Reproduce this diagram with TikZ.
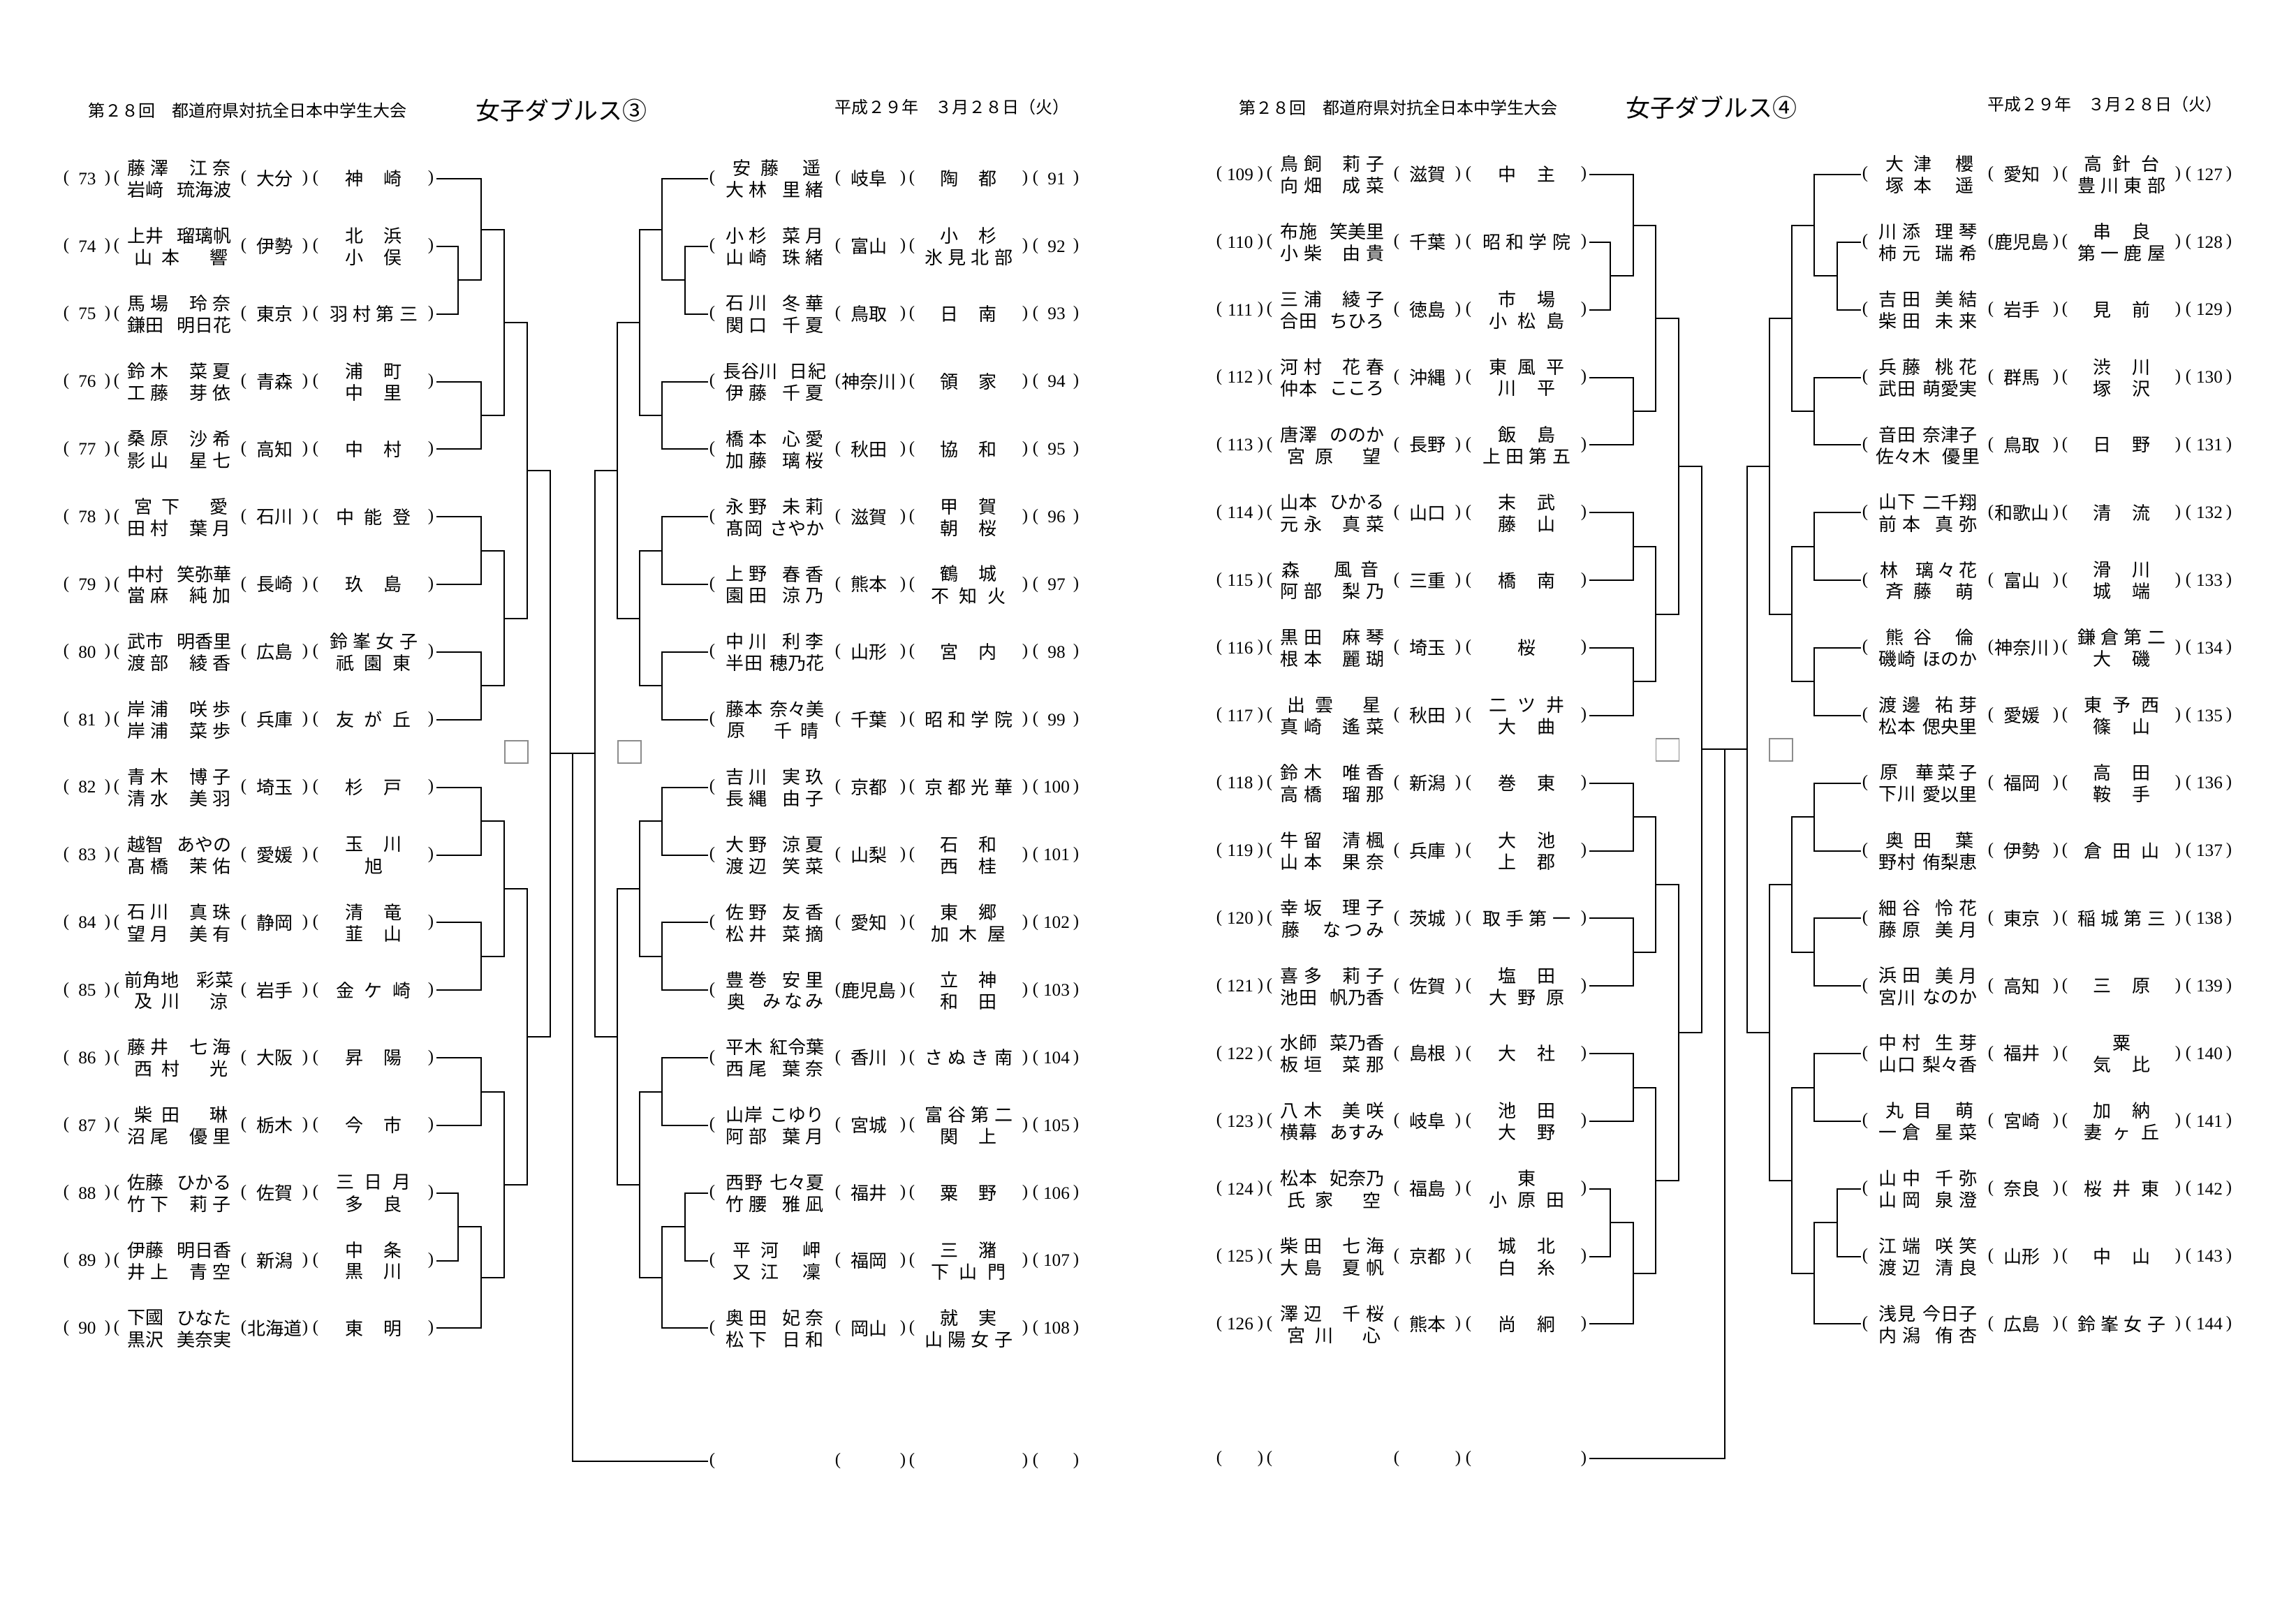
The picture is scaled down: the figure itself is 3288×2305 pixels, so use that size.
\documentclass[tikz,border=0pt]{standalone}
\usepackage{fontspec}
\newfontfamily\jp{Noto Sans CJK JP}
\newfontfamily\lser{Liberation Serif}
\usetikzlibrary{calc}
\ExplSyntaxOn
\NewExpandableDocumentCommand\clen{m}{\tl_count:n{#1}}
\NewDocumentCommand\spr{mm}{\tl_set:Nx\l_tmpa_tl{\tl_tail:n{#2}}\makebox[\dim_eval:n{0.25pt*#1}][s]{\tl_head:n{#2}\tl_map_inline:Nn\l_tmpa_tl{\hfil##1}}}
\ExplSyntaxOff
% person line: #1 S0, #2 y, #3 surname, #4 given, #5 name
\newcommand\Person[5]{%
  \ifnum\clen{#4}=1\relax
    \node[nm,anchor=west] (#5s) at (#1+10,#2) {\spr{66}{#3}};
    \node[nm] (#5g) at (\Gone-18,#2) {#4};
  \else
    \ifnum\clen{#3}=1\relax
      \node[nm] (#5s) at (#1+15,#2) {#3};
      \ifnum\clen{#4}=3\relax
        \node[nm,anchor=east] (#5g) at (\Gone,#2) {\spr{88}{#4}};
      \else
        \node[nm,anchor=east] (#5g) at (\Gone-8,#2) {\spr{64}{#4}};
      \fi
    \else
      \ifnum\clen{#3}=3\relax
        \node[nm,anchor=west] (#5s) at (#1-4,#2) {\spr{78}{#3}};
        \node[nm,anchor=east] (#5g) at (\Gone+4,#2) {\spr{54}{#4}};
      \else
        \ifnum\clen{#4}=3\relax
          \node[nm,anchor=west] (#5s) at (#1,#2) {\spr{53}{#3}};
          \node[nm,anchor=east] (#5g) at (\Gone,#2) {\spr{78}{#4}};
        \else
          \node[nm,anchor=west] (#5s) at (#1,#2) {\spr{60}{#3}};
          \node[nm,anchor=east] (#5g) at (\Gone,#2) {\spr{60}{#4}};
        \fi
      \fi
    \fi
  \fi}
\newcommand\SchOne[4]{\node[nm] (#4) at (#1,#2) {\ifcase\clen{#3}\or #3\or \spr{82}{#3}\or \spr{108}{#3}\else \spr{126}{#3}\fi};}
\newcommand\Sch[5]{%
  \if\relax\detokenize{#4}\relax
    \SchOne{#1}{#2}{#3}{#5a}%
  \else
    \SchOne{#1}{#2-15}{#3}{#5a}\SchOne{#1}{#2+16}{#4}{#5b}%
  \fi}
% entry with number on the left
\newcommand\EL[9]{%
  \pgfmathsetmacro\yy{\by+96.85*#1}%
  \def\Gone{\bx+236}%
  \node[pp] (p#2a) at (\bx,\yy) {(};
  \node[nb] (n#2) at (\bx+30,\yy) {#2};
  \node[pp] (p#2b) at (\bx+59,\yy) {)};
  \node[pp] (p#2c) at (\bx+72,\yy) {(};
  \Person{\bx+87}{\yy-15}{#3}{#4}{m#2a}%
  \Person{\bx+87}{\yy+16}{#5}{#6}{m#2b}%
  \node[pp] (p#2d) at (\bx+254,\yy) {(};
  \node[nm] (f#2) at (\bx+298,\yy) {#7};
  \node[pp] (p#2e) at (\bx+342,\yy) {)};
  \node[pp] (p#2f) at (\bx+357,\yy) {(};
  \Sch{\bx+440}{\yy}{#8}{#9}{s#2}%
  \node[pp] (p#2g) at (\bx+522,\yy) {)};
  \coordinate (e#2) at (\bx+530,\yy);}
% entry with number on the right
\newcommand\ER[9]{%
  \pgfmathsetmacro\yy{\by+96.85*#1}%
  \def\Gone{\bx+160}%
  \coordinate (e#2) at (\bx-6,\yy);
  \node[pp] (p#2a) at (\bx,\yy) {(};
  \Person{\bx+19}{\yy-15}{#3}{#4}{m#2a}%
  \Person{\bx+19}{\yy+16}{#5}{#6}{m#2b}%
  \node[pp] (p#2b) at (\bx+180,\yy) {(};
  \node[nm] (f#2) at (\bx+224,\yy) {#7};
  \node[pp] (p#2c) at (\bx+273,\yy) {)};
  \node[pp] (p#2d) at (\bx+286,\yy) {(};
  \Sch{\bx+367}{\yy}{#8}{#9}{s#2}%
  \node[pp] (p#2e) at (\bx+448,\yy) {)};
  \node[pp] (p#2f) at (\bx+463,\yy) {(};
  \node[nb] (n#2) at (\bx+493,\yy) {#2};
  \node[pp] (p#2g) at (\bx+521,\yy) {)};}
\newcommand\jn[4]{\draw[br] (#1) -- (#1 -| #3) -- (#2 -| #3) -- (#2);
  \coordinate (#4) at ($(#1 -| #3)!0.5!(#2 -| #3)$);}
\begin{document}
\begin{tikzpicture}[x=0.25pt,y=-0.25pt,
  nm/.style={inner sep=0pt,outer sep=0pt,font=\jp\fontsize{6.5pt}{6.5pt}\selectfont},
  pp/.style={inner sep=0pt,outer sep=0pt,font=\lser\fontsize{6.2pt}{6.2pt}\selectfont},
  nb/.style={inner sep=0pt,outer sep=0pt,font=\lser\fontsize{6.3pt}{6.3pt}\selectfont},
  hd/.style={inner sep=0pt,anchor=west,font=\jp\fontsize{6pt}{6pt}\selectfont},
  ttl/.style={inner sep=0pt,anchor=west,font=\jp\fontsize{8.75pt}{9pt}\selectfont},
  br/.style={line width=0.5pt},
  sq/.style={draw=black!45,line width=0.3pt,minimum width=8.25pt,minimum height=8pt,inner sep=0pt}]
\fill[white] (0,0) rectangle (3288,2305);
\useasboundingbox (0,0) rectangle (3288,2305);
% headers
\node[hd] (h1) at (126,158) {第２８回　都道府県対抗全日本中学生大会};
\node[ttl] (t1) at (681,158) {女子ダブルス③};
\node[hd] (d1) at (1195,153) {平成２９年　３月２８日（火）};
\node[hd] (h2) at (1774,154) {第２８回　都道府県対抗全日本中学生大会};
\node[ttl] (t2) at (2328,154) {女子ダブルス④};
\node[hd] (d2) at (2846,149) {平成２９年　３月２８日（火）};
% ===== left page, left column
\def\bx{95}\def\by{256}
\EL{0}{73}{藤澤}{江奈}{岩﨑}{琉海波}{大分}{神崎}{}
\EL{1}{74}{上井}{瑠璃帆}{山本}{響}{伊勢}{北浜}{小俣}
\EL{2}{75}{馬場}{玲奈}{鎌田}{明日花}{東京}{羽村第三}{}
\EL{3}{76}{鈴木}{菜夏}{工藤}{芽依}{青森}{浦町}{中里}
\EL{4}{77}{桑原}{沙希}{影山}{星七}{高知}{中村}{}
\EL{5}{78}{宮下}{愛}{田村}{葉月}{石川}{中能登}{}
\EL{6}{79}{中村}{笑弥華}{當麻}{純加}{長崎}{玖島}{}
\EL{7}{80}{武市}{明香里}{渡部}{綾香}{広島}{鈴峯女子}{祇園東}
\EL{8}{81}{岸浦}{咲歩}{岸浦}{菜歩}{兵庫}{友が丘}{}
\EL{9}{82}{青木}{博子}{清水}{美羽}{埼玉}{杉戸}{}
\EL{10}{83}{越智}{あやの}{髙橋}{茉佑}{愛媛}{玉川}{旭}
\EL{11}{84}{石川}{真珠}{望月}{美有}{静岡}{清竜}{韮山}
\EL{12}{85}{前角地}{彩菜}{及川}{涼}{岩手}{金ケ崎}{}
\EL{13}{86}{藤井}{七海}{西村}{光}{大阪}{昇陽}{}
\EL{14}{87}{柴田}{琳}{沼尾}{優里}{栃木}{今市}{}
\EL{15}{88}{佐藤}{ひかる}{竹下}{莉子}{佐賀}{三日月}{多良}
\EL{16}{89}{伊藤}{明日香}{井上}{青空}{新潟}{中条}{黒川}
\EL{17}{90}{下國}{ひなた}{黒沢}{美奈実}{北海道}{東明}{}
% ===== left page, right column
\def\bx{1020}
\ER{0}{91}{安藤}{遥}{大林}{里緒}{岐阜}{陶都}{}
\ER{1}{92}{小杉}{菜月}{山崎}{珠緒}{富山}{小杉}{氷見北部}
\ER{2}{93}{石川}{冬華}{関口}{千夏}{鳥取}{日南}{}
\ER{3}{94}{長谷川}{日紀}{伊藤}{千夏}{神奈川}{領家}{}
\ER{4}{95}{橋本}{心愛}{加藤}{璃桜}{秋田}{協和}{}
\ER{5}{96}{永野}{未莉}{髙岡}{さやか}{滋賀}{甲賀}{朝桜}
\ER{6}{97}{上野}{春香}{園田}{涼乃}{熊本}{鶴城}{不知火}
\ER{7}{98}{中川}{利李}{半田}{穂乃花}{山形}{宮内}{}
\ER{8}{99}{藤本}{奈々美}{原}{千晴}{千葉}{昭和学院}{}
\ER{9}{100}{吉川}{実玖}{長縄}{由子}{京都}{京都光華}{}
\ER{10}{101}{大野}{涼夏}{渡辺}{笑菜}{山梨}{石和}{西桂}
\ER{11}{102}{佐野}{友香}{松井}{菜摘}{愛知}{東郷}{加木屋}
\ER{12}{103}{豊巻}{安里}{奥}{みなみ}{鹿児島}{立神}{和田}
\ER{13}{104}{平木}{紅令葉}{西尾}{葉奈}{香川}{さぬき南}{}
\ER{14}{105}{山岸}{こゆり}{阿部}{葉月}{宮城}{富谷第二}{関上}
\ER{15}{106}{西野}{七々夏}{竹腰}{雅凪}{福井}{粟野}{}
\ER{16}{107}{平河}{岬}{又江}{凜}{福岡}{三潴}{下山門}
\ER{17}{108}{奥田}{妃奈}{松下}{日和}{岡山}{就実}{山陽女子}
% ===== right page, left column
\def\bx{1746}\def\by{250}
\EL{0}{109}{鳥飼}{莉子}{向畑}{成菜}{滋賀}{中主}{}
\EL{1}{110}{布施}{笑美里}{小柴}{由貴}{千葉}{昭和学院}{}
\EL{2}{111}{三浦}{綾子}{合田}{ちひろ}{徳島}{市場}{小松島}
\EL{3}{112}{河村}{花春}{仲本}{こころ}{沖縄}{東風平}{川平}
\EL{4}{113}{唐澤}{ののか}{宮原}{望}{長野}{飯島}{上田第五}
\EL{5}{114}{山本}{ひかる}{元永}{真菜}{山口}{末武}{藤山}
\EL{6}{115}{森}{風音}{阿部}{梨乃}{三重}{橋南}{}
\EL{7}{116}{黒田}{麻琴}{根本}{麗瑚}{埼玉}{桜}{}
\EL{8}{117}{出雲}{星}{真崎}{遙菜}{秋田}{二ツ井}{大曲}
\EL{9}{118}{鈴木}{唯香}{高橋}{瑠那}{新潟}{巻東}{}
\EL{10}{119}{牛留}{清楓}{山本}{果奈}{兵庫}{大池}{上郡}
\EL{11}{120}{幸坂}{理子}{藤}{なつみ}{茨城}{取手第一}{}
\EL{12}{121}{喜多}{莉子}{池田}{帆乃香}{佐賀}{塩田}{大野原}
\EL{13}{122}{水師}{菜乃香}{板垣}{菜那}{島根}{大社}{}
\EL{14}{123}{八木}{美咲}{横幕}{あすみ}{岐阜}{池田}{大野}
\EL{15}{124}{松本}{妃奈乃}{氏家}{空}{福島}{東}{小原田}
\EL{16}{125}{柴田}{七海}{大島}{夏帆}{京都}{城北}{白糸}
\EL{17}{126}{澤辺}{千桜}{宮川}{心}{熊本}{尚絅}{}
% ===== right page, right column
\def\bx{2671}
\ER{0}{127}{大津}{櫻}{塚本}{遥}{愛知}{高針台}{豊川東部}
\ER{1}{128}{川添}{理琴}{柿元}{瑞希}{鹿児島}{串良}{第一鹿屋}
\ER{2}{129}{吉田}{美結}{柴田}{未来}{岩手}{見前}{}
\ER{3}{130}{兵藤}{桃花}{武田}{萌愛実}{群馬}{渋川}{塚沢}
\ER{4}{131}{音田}{奈津子}{佐々木}{優里}{鳥取}{日野}{}
\ER{5}{132}{山下}{二千翔}{前本}{真弥}{和歌山}{清流}{}
\ER{6}{133}{林}{璃々花}{斉藤}{萌}{富山}{滑川}{城端}
\ER{7}{134}{熊谷}{倫}{磯崎}{ほのか}{神奈川}{鎌倉第二}{大磯}
\ER{8}{135}{渡邊}{祐芽}{松本}{偲央里}{愛媛}{東予西}{篠山}
\ER{9}{136}{原}{華菜子}{下川}{愛以里}{福岡}{高田}{鞍手}
\ER{10}{137}{奥田}{葉}{野村}{侑梨恵}{伊勢}{倉田山}{}
\ER{11}{138}{細谷}{怜花}{藤原}{美月}{東京}{稲城第三}{}
\ER{12}{139}{浜田}{美月}{宮川}{なのか}{高知}{三原}{}
\ER{13}{140}{中村}{生芽}{山口}{梨々香}{福井}{粟}{気比}
\ER{14}{141}{丸目}{萌}{一倉}{星菜}{宮崎}{加納}{妻ヶ丘}
\ER{15}{142}{山中}{千弥}{山岡}{泉澄}{奈良}{桜井東}{}
\ER{16}{143}{江端}{咲笑}{渡辺}{清良}{山形}{中山}{}
\ER{17}{144}{浅見}{今日子}{内潟}{侑杏}{広島}{鈴峯女子}{}
% ===== bottom blank rows
\node[pp] (q1a) at (1020,2093) {(};
\node[pp] (q1b) at (1200,2093) {(};
\node[pp] (q1c) at (1293,2093) {)};
\node[pp] (q1d) at (1306,2093) {(};
\node[pp] (q1e) at (1468,2093) {)};
\node[pp] (q1f) at (1483,2093) {(};
\node[pp] (q1g) at (1541,2093) {)};
\coordinate (bot1) at (1014,2093);
\node[pp] (q2a) at (1746,2089) {(};
\node[pp] (q2b) at (1805,2089) {)};
\node[pp] (q2c) at (1818,2089) {(};
\node[pp] (q2d) at (2000,2089) {(};
\node[pp] (q2e) at (2088,2089) {)};
\node[pp] (q2f) at (2103,2089) {(};
\node[pp] (q2g) at (2268,2089) {)};
\coordinate (bot2) at (2276,2089);
% ===== level x positions
\coordinate (LA1) at (656,0);\coordinate (LA2) at (689,0);\coordinate (LA3) at (722,0);\coordinate (LA4) at (755,0);\coordinate (LA5) at (788,0);
\coordinate (RA1) at (981,0);\coordinate (RA2) at (948,0);\coordinate (RA3) at (916,0);\coordinate (RA4) at (884,0);\coordinate (RA5) at (852,0);
\coordinate (LB1) at (2306,0);\coordinate (LB2) at (2339,0);\coordinate (LB3) at (2371,0);\coordinate (LB4) at (2404,0);\coordinate (LB5) at (2437,0);
\coordinate (RB1) at (2631,0);\coordinate (RB2) at (2598,0);\coordinate (RB3) at (2566,0);\coordinate (RB4) at (2534,0);\coordinate (RB5) at (2502,0);
% ===== brackets left page left
\jn{e74}{e75}{LA1}{a1}
\jn{e73}{a1}{LA2}{a2}
\jn{e76}{e77}{LA2}{a3}
\jn{a2}{a3}{LA3}{a4}
\jn{e78}{e79}{LA2}{a5}
\jn{e80}{e81}{LA2}{a6}
\jn{a5}{a6}{LA3}{a7}
\jn{a4}{a7}{LA4}{a8}
\jn{e82}{e83}{LA2}{a9}
\jn{e84}{e85}{LA2}{a10}
\jn{a9}{a10}{LA3}{a11}
\jn{e86}{e87}{LA2}{a12}
\jn{e88}{e89}{LA1}{a13}
\jn{a13}{e90}{LA2}{a14}
\jn{a12}{a14}{LA3}{a15}
\jn{a11}{a15}{LA4}{a16}
\jn{a8}{a16}{LA5}{a17}
% left page right
\jn{e92}{e93}{RA1}{b1}
\jn{e91}{b1}{RA2}{b2}
\jn{e94}{e95}{RA2}{b3}
\jn{b2}{b3}{RA3}{b4}
\jn{e96}{e97}{RA2}{b5}
\jn{e98}{e99}{RA2}{b6}
\jn{b5}{b6}{RA3}{b7}
\jn{b4}{b7}{RA4}{b8}
\jn{e100}{e101}{RA2}{b9}
\jn{e102}{e103}{RA2}{b10}
\jn{b9}{b10}{RA3}{b11}
\jn{e104}{e105}{RA2}{b12}
\jn{e106}{e107}{RA1}{b13}
\jn{b13}{e108}{RA2}{b14}
\jn{b12}{b14}{RA3}{b15}
\jn{b11}{b15}{RA4}{b16}
\jn{b8}{b16}{RA5}{b17}
% right page left
\jn{e110}{e111}{LB1}{c1}
\jn{e109}{c1}{LB2}{c2}
\jn{e112}{e113}{LB2}{c3}
\jn{c2}{c3}{LB3}{c4}
\jn{e114}{e115}{LB2}{c5}
\jn{e116}{e117}{LB2}{c6}
\jn{c5}{c6}{LB3}{c7}
\jn{c4}{c7}{LB4}{c8}
\jn{e118}{e119}{LB2}{c9}
\jn{e120}{e121}{LB2}{c10}
\jn{c9}{c10}{LB3}{c11}
\jn{e122}{e123}{LB2}{c12}
\jn{e124}{e125}{LB1}{c13}
\jn{c13}{e126}{LB2}{c14}
\jn{c12}{c14}{LB3}{c15}
\jn{c11}{c15}{LB4}{c16}
\jn{c8}{c16}{LB5}{c17}
% right page right
\jn{e128}{e129}{RB1}{d1}
\jn{e127}{d1}{RB2}{d2}
\jn{e130}{e131}{RB2}{d3}
\jn{d2}{d3}{RB3}{d4}
\jn{e132}{e133}{RB2}{d5}
\jn{e134}{e135}{RB2}{d6}
\jn{d5}{d6}{RB3}{d7}
\jn{d4}{d7}{RB4}{d8}
\jn{e136}{e137}{RB2}{d9}
\jn{e138}{e139}{RB2}{d10}
\jn{d9}{d10}{RB3}{d11}
\jn{e140}{e141}{RB2}{d12}
\jn{e142}{e143}{RB1}{d13}
\jn{d13}{e144}{RB2}{d14}
\jn{d12}{d14}{RB3}{d15}
\jn{d11}{d15}{RB4}{d16}
\jn{d8}{d16}{RB5}{d17}
% finals
\draw[br] (a17) -- (b17);
\coordinate (m1) at ($(a17)!0.5!(b17)$);
\draw[br] (m1) |- (bot1);
\draw[br] (c17) -- (d17);
\coordinate (m2) at ($(c17)!0.5!(d17)$);
\draw[br] (m2) |- (bot2);
% small squares
\node[sq] (sqa) at (739.5,1077) {};
\node[sq] (sqb) at (901.5,1077) {};
\node[sq] (sqc) at (2388,1074) {};
\node[sq] (sqd) at (2550.5,1074) {};
\end{tikzpicture}
\end{document}
